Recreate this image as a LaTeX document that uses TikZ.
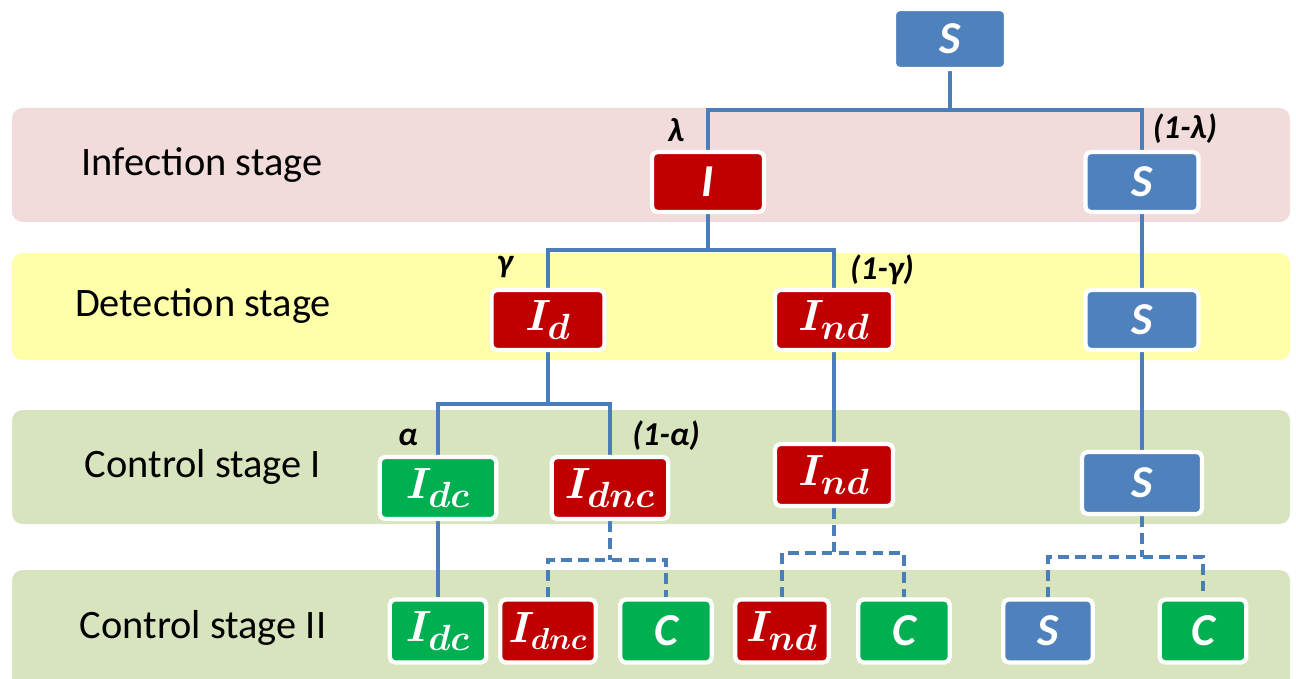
\documentclass[tikz,border=0pt]{standalone}
\usepackage{fontspec}
\setmainfont{Carlito}
\setsansfont{Carlito}
\pgfdeclarelayer{bg}
\pgfdeclarelayer{lines}
\pgfsetlayers{bg,lines,main}
\begin{document}
\begin{tikzpicture}[x=0.02cm,y=-0.02cm]
\definecolor{bandpink}{RGB}{242,220,219}
\definecolor{bandyellow}{RGB}{255,255,170}
\definecolor{bandgreen}{RGB}{215,228,189}
\definecolor{nblue}{RGB}{79,129,189}
\definecolor{nred}{RGB}{192,0,0}
\definecolor{ngreen}{RGB}{0,176,80}
\definecolor{lineblue}{RGB}{74,126,187}
\tikzset{
  band/.style={fill=#1, draw=none, rounded corners=6pt},
  bandlabel/.style={font=\fontsize{23}{27}\selectfont, anchor=center},
  box/.style={rounded corners=3pt, draw=white, line width=2.4pt, inner sep=0pt, text=white, minimum height=1.2cm},
  bbox/.style={box, fill=nblue},
  rbox/.style={box, fill=nred},
  gbox/.style={box, fill=ngreen},
  letter/.style={font=\fontsize{26}{30}\selectfont\bfseries\itshape},
  mathlab/.style={font=\fontsize{28}{32}\selectfont\boldmath},
  smallmath/.style={font=\fontsize{26}{30}\selectfont\boldmath},
  prob/.style={font=\fontsize{19}{22}\selectfont\bfseries\itshape, text=black},
  conn/.style={draw=lineblue, line width=2.8pt},
  dconn/.style={conn, dash pattern=on 6pt off 3.6pt},
}
\useasboundingbox (0,0) rectangle (1296,679);
% bands
\begin{pgfonlayer}{bg}
\fill[band=bandpink] (12,108) rectangle (1290,222);
\fill[band=bandyellow] (12,253) rectangle (1290,360);
\fill[band=bandgreen] (12,410) rectangle (1290,524);
\fill[band=bandgreen] (12,570) rectangle (1290,690);
\end{pgfonlayer}
\node[bandlabel] (L1) at (202,165) {Infection stage};
\node[bandlabel] (L2) at (203,306) {Detection stage};
\node[bandlabel] (L3) at (203,467) {Control stage I};
\node[bandlabel] (L4) at (203,628) {Control stage II};
% junction coordinates
\coordinate (j1) at (950,110);
\coordinate (j2) at (708,250);
\coordinate (j3) at (548,404);
\coordinate (j4) at (610,560);
\coordinate (j5) at (834,553);
\coordinate (j6) at (1142,557);
% nodes
\node[bbox, letter, minimum width=2.24cm] (S0) at (950,39) {S};
\node[rbox, letter, minimum width=2.24cm] (I) at (708,182) {I};
\node[bbox, letter, minimum width=2.26cm] (S1) at (1142,182) {S};
\node[rbox, mathlab, minimum width=2.26cm] (Id) at (548,320) {$I_{d}$};
\node[rbox, mathlab, minimum width=2.36cm] (Ind) at (834,320) {$I_{nd}$};
\node[bbox, letter, minimum width=2.26cm] (S2) at (1142,320) {S};
\node[gbox, mathlab, minimum width=2.33cm, minimum height=1.24cm] (Idc) at (438,488) {$I_{dc}$};
\node[rbox, mathlab, minimum width=2.33cm, minimum height=1.24cm] (Idnc) at (610,488) {$I_{dnc}$};
\node[rbox, mathlab, minimum width=2.36cm, minimum height=1.24cm] (Ind2) at (834,475) {$I_{nd}$};
\node[bbox, letter, minimum width=2.4cm, minimum height=1.24cm] (S3) at (1142,483) {S};
\node[gbox, mathlab, minimum width=1.93cm, minimum height=1.26cm] (Idc2) at (438,631) {$I_{dc}$};
\node[rbox, smallmath, minimum width=1.91cm, minimum height=1.26cm] (Idnc2) at (548,631) {$I_{dnc}$};
\node[gbox, letter, minimum width=1.83cm, minimum height=1.26cm] (C1) at (666,631) {C};
\node[rbox, mathlab, minimum width=1.87cm, minimum height=1.26cm] (Ind3) at (782,631) {$I_{nd}$};
\node[gbox, letter, minimum width=1.83cm, minimum height=1.26cm] (C2) at (904,631) {C};
\node[bbox, letter, minimum width=1.79cm, minimum height=1.26cm] (S4) at (1048,631) {S};
\node[gbox, letter, minimum width=1.73cm, minimum height=1.26cm] (C3) at (1203,631) {C};
% connectors
\begin{pgfonlayer}{lines}
\draw[conn] (S0.south) -- (j1);
\draw[conn] (I.north) -- (I.north |- j1) -- (S1.north |- j1) -- (S1.north);
\draw[conn] (I.south) -- (j2);
\draw[conn] (Id.north) -- (Id.north |- j2) -- (Ind.north |- j2) -- (Ind.north);
\draw[conn] (Id.south) -- (j3);
\draw[conn] (Idc.north) -- (Idc.north |- j3) -- (Idnc.north |- j3) -- (Idnc.north);
\draw[conn] (Ind.south) -- (Ind2.north);
\draw[conn] (S1.south) -- (S2.north);
\draw[conn] (S2.south) -- (S3.north);
\draw[conn] (Idc.south) -- (Idc2.north);
\draw[dconn] (Idnc.south) -- (j4);
\draw[dconn] (Idnc2.north) -- (Idnc2.north |- j4) -- (C1.north |- j4) -- (C1.north);
\draw[dconn] (Ind2.south) -- (j5);
\draw[dconn] (Ind3.north) -- (Ind3.north |- j5) -- (C2.north |- j5) -- (C2.north);
\draw[dconn] (S3.south) -- (j6);
\draw[dconn] (S4.north) -- (S4.north |- j6) -- (C3.north |- j6) -- (C3.north);
\end{pgfonlayer}
% probability labels
\node[prob] (pl) at (676,130) {λ};
\node[prob] (pnl) at (1185,129) {(1-λ)};
\node[prob] (pg) at (505,267) {γ};
\node[prob] (png) at (882,270) {(1-γ)};
\node[prob] (pa) at (408,437) {α};
\node[prob] (pna) at (666,436) {(1-α)};
\end{tikzpicture}
\end{document}
